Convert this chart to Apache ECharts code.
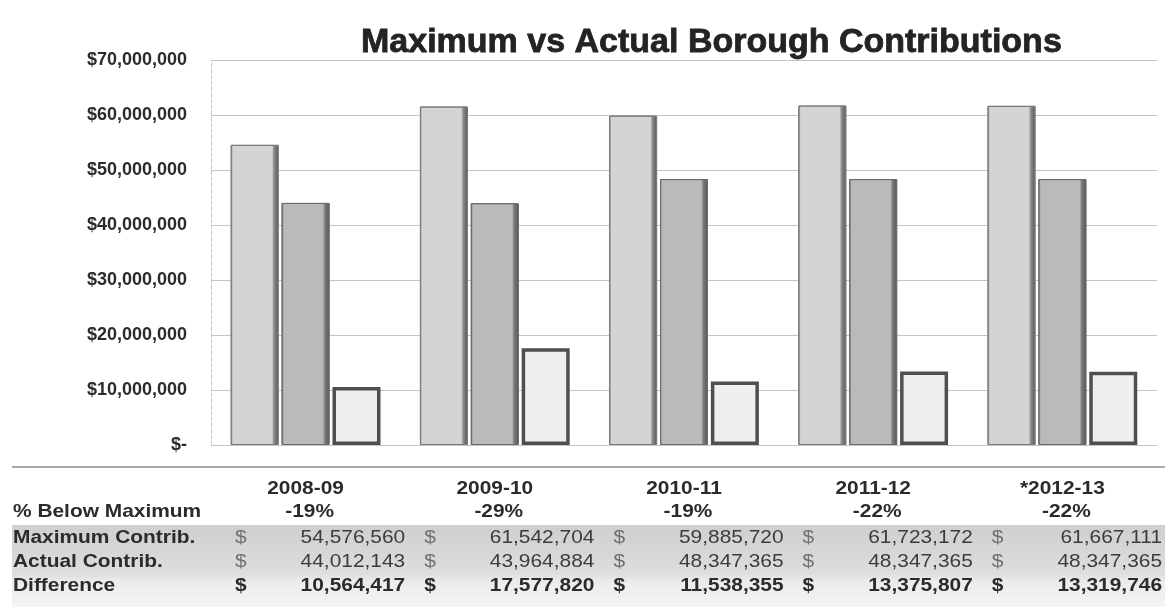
<!DOCTYPE html>
<html>
<head>
<meta charset="utf-8">
<script src="https://cdn.jsdelivr.net/npm/echarts@6/dist/echarts.min.js"></script>
<style>
  html, body { margin: 0; padding: 0; background: #ffffff; }
  #chart { width: 1165px; height: 607px; }
</style>
</head>
<body>
<div id="chart"></div>
<script>
// Fiscal years and the three contribution series (dollars)
var years = ['2008-09', '2009-10', '2010-11', '2011-12', '*2012-13'];
var maximumContrib = [54576560, 61542704, 59885720, 61723172, 61667111];
var actualContrib = [44012143, 43964884, 48347365, 48347365, 48347365];
var difference = [10564417, 17577820, 11538355, 13375807, 13319746];
var pctBelow = ['-19%', '-29%', '-19%', '-22%', '-22%'];
var rowLabels = ['% Below Maximum', 'Maximum Contrib.', 'Actual Contrib.', 'Difference'];
var yTicks = [0, 10000000, 20000000, 30000000, 40000000, 50000000, 60000000, 70000000];

var FONT = '"Liberation Sans", Arial, sans-serif';

function money(v) {
  return v.toString().replace(/\B(?=(\d{3})+(?!\d))/g, ',');
}

// Bevelled bar face: thin dark left edge, flat face, dark right edge
function bevel(face, edge) {
  return {
    type: 'linear', x: 0, y: 0, x2: 1, y2: 0,
    colorStops: [
      { offset: 0, color: edge },
      { offset: 0.05, color: face },
      { offset: 0.86, color: face },
      { offset: 0.9, color: edge },
      { offset: 1, color: '#555555' }
    ]
  };
}

var grid = { left: 211, right: 8, top: 60, bottom: 162 };

var chart = echarts.init(document.getElementById('chart'), null, { renderer: 'canvas' });

var option = {
  backgroundColor: '#ffffff',
  animation: false,
  title: {
    text: 'Maximum vs Actual Borough Contributions',
    left: 356, top: 21,
    textStyle: { fontFamily: FONT, fontSize: 34, fontWeight: 'bold', color: '#232323',
      textBorderColor: '#232323', textBorderWidth: 0.8 }
  },
  grid: grid,
  xAxis: {
    type: 'category',
    data: years,
    axisLine: { show: false },
    axisTick: { show: false },
    axisLabel: { show: false },
    splitLine: { show: false }
  },
  yAxis: {
    type: 'value',
    min: yTicks[0], max: yTicks[yTicks.length - 1], interval: 10000000,
    axisLine: { show: true, lineStyle: { color: '#c8c8c8', width: 1, type: 'dashed' } },
    axisTick: { show: false },
    splitLine: { lineStyle: { color: '#c4c4c4', width: 1 } },
    axisLabel: {
      margin: 24,
      fontFamily: FONT, fontSize: 18, fontWeight: 'bold', color: '#2b2b2b',
      formatter: function (v) { return v === 0 ? '$-' : '$' + money(v); }
    }
  },
  series: [
    {
      name: 'Maximum Contrib.', type: 'bar', data: maximumContrib,
      barWidth: 48, barGap: '6%',
      itemStyle: { color: bevel('#d4d4d4', '#8c8c8c'), borderColor: '#7a7a7a', borderWidth: 1 }
    },
    {
      name: 'Actual Contrib.', type: 'bar', data: actualContrib,
      barWidth: 48,
      itemStyle: { color: bevel('#bababa', '#7c7c7c'), borderColor: '#6a6a6a', borderWidth: 1 }
    },
    {
      name: 'Difference', type: 'bar', data: difference,
      barWidth: 48,
      itemStyle: { color: '#efefef', borderColor: '#4f4f4f', borderWidth: 3.5 }
    }
  ]
};

chart.setOption(option);

// Data table under the plot, one column per category
function buildTable() {
  var els = [];
  var rowY = { head: 489, pct: 512, max: 538, act: 562, diff: 586 };
  var bandTop = 525;
  var SX = 1.1;

  function txt(s, x, y, align, bold, color) {
    return { type: 'text', x: x, y: y, scaleX: SX, z: 5,
      style: { text: s, x: 0, y: 0, textAlign: align, textVerticalAlign: 'middle',
        fontFamily: FONT, fontSize: 19, fontWeight: bold ? 'bold' : 'normal', fill: color } };
  }

  els.push({ type: 'line', shape: { x1: 12, y1: 467, x2: 1165, y2: 467 },
    style: { stroke: '#a8a8a8', lineWidth: 2 } });
  els.push({ type: 'rect', shape: { x: 12, y: bandTop, width: 1153, height: 607 - bandTop },
    style: { fill: { type: 'linear', x: 0, y: 0, x2: 0, y2: 1, colorStops: [
      { offset: 0, color: '#cfcfcf' }, { offset: 0.3, color: '#d6d6d6' },
      { offset: 0.6, color: '#dedede' }, { offset: 0.68, color: '#ebebeb' },
      { offset: 1, color: '#f4f4f4' }] } },
    z: 0 });

  var labelYs = [rowY.pct, rowY.max, rowY.act, rowY.diff];
  rowLabels.forEach(function (t, i) {
    els.push(txt(t, 13, labelYs[i], 'left', true, '#2b2b2b'));
  });

  years.forEach(function (yr, i) {
    var cx = chart.convertToPixel({ xAxisIndex: 0 }, yr);
    var left = cx - 94.6;
    var right = cx + 94.6;
    els.push(txt(yr, cx, rowY.head, 'center', true, '#2b2b2b'));
    els.push(txt(pctBelow[i], cx + 4, rowY.pct, 'center', true, '#2b2b2b'));
    var rows = [
      { v: maximumContrib[i], y: rowY.max, bold: false },
      { v: actualContrib[i], y: rowY.act, bold: false },
      { v: difference[i], y: rowY.diff, bold: true }
    ];
    rows.forEach(function (r) {
      els.push(txt('$', left + 24, r.y, 'left', r.bold, r.bold ? '#2b2b2b' : '#707070'));
      els.push(txt(money(r.v), right + 5, r.y, 'right', r.bold, r.bold ? '#2b2b2b' : '#3c3c3c'));
    });
  });
  return els;
}

chart.setOption({ graphic: { elements: buildTable() } });
</script>
</body>
</html>
